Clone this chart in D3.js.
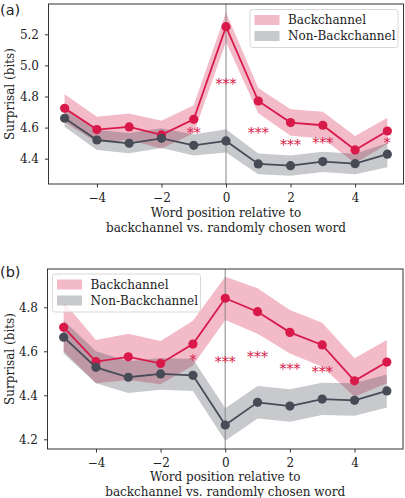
<!DOCTYPE html>
<html>
<head>
<meta charset="utf-8">
<script src="https://cdn.jsdelivr.net/npm/d3@7"></script>
<style>
  html, body { margin: 0; padding: 0; background: #fff; }
  svg { display: block; }
  text { font-family: "DejaVu Serif", serif; fill: #222; }
</style>
</head>
<body>
<svg id="chart" width="405" height="498"></svg>
<script>
// ---------- data ----------
const positions = [-5, -4, -3, -2, -1, 0, 1, 2, 3, 4, 5];
const seriesNames = ["Backchannel", "Non-Backchannel"];
const xTicks = [-4, -2, 0, 2, 4];

// Panel (a)
const aBackMean  = [4.724, 4.587, 4.604, 4.553, 4.653, 5.249, 4.771, 4.632, 4.615, 4.456, 4.578];
const aBackUpper = [4.815, 4.670, 4.690, 4.644, 4.744, 5.340, 4.855, 4.718, 4.702, 4.546, 4.664];
const aBackLower = [4.635, 4.505, 4.520, 4.465, 4.563, 5.150, 4.692, 4.548, 4.530, 4.370, 4.495];
const aNonMean   = [4.660, 4.520, 4.499, 4.531, 4.486, 4.514, 4.366, 4.355, 4.381, 4.368, 4.429];
const aNonUpper  = [4.720, 4.585, 4.565, 4.595, 4.555, 4.589, 4.434, 4.420, 4.445, 4.432, 4.500];
const aNonLower  = [4.605, 4.456, 4.435, 4.468, 4.420, 4.439, 4.300, 4.290, 4.315, 4.300, 4.345];
const aYTicks = [4.4, 4.6, 4.8, 5.0, 5.2];
const aStarPos = [-1, 0, 1, 2, 3, 5];
const aStarText = ["**", "***", "***", "***", "***", "*"];
const aStarY = [4.587, 4.900, 4.587, 4.507, 4.518, 4.522];

// Panel (b)
const bBackMean  = [4.709, 4.553, 4.575, 4.545, 4.633, 4.841, 4.780, 4.686, 4.629, 4.466, 4.551];
const bBackUpper = [4.825, 4.651, 4.680, 4.647, 4.739, 4.939, 4.886, 4.788, 4.730, 4.568, 4.651];
const bBackLower = [4.600, 4.455, 4.470, 4.450, 4.535, 4.742, 4.680, 4.590, 4.530, 4.394, 4.455];
const bNonMean   = [4.664, 4.527, 4.482, 4.497, 4.491, 4.265, 4.368, 4.351, 4.383, 4.377, 4.420];
const bNonUpper  = [4.740, 4.600, 4.555, 4.570, 4.565, 4.341, 4.442, 4.427, 4.457, 4.455, 4.495];
const bNonLower  = [4.590, 4.455, 4.410, 4.425, 4.420, 4.194, 4.295, 4.280, 4.310, 4.307, 4.345];
const bYTicks = [4.2, 4.4, 4.6, 4.8];
const bStarPos = [-1, 0, 1, 2, 3];
const bStarText = ["*", "***", "***", "***", "***"];
const bStarY = [4.575, 4.566, 4.588, 4.532, 4.520];

const xLabelLines = ["Word position relative to", "backchannel vs. randomly chosen word"];
const yLabel = "Surprisal (bits)";

// ---------- styles ----------
const RED = "#d8194a";
const GREY = "#464b56";
const FS = 12;

const svg = d3.select("#chart");

function panel(cfg) {
  const g = svg.append("g");
  const x = d3.scaleLinear().domain([-5.5, 5.5]).range([cfg.left, cfg.right]);
  const y = d3.scaleLinear().domain(cfg.yDomain).range([cfg.bottom, cfg.top]);

  const area = (lo, hi) => d3.area()
    .x((d, i) => x(positions[i]))
    .y0((d, i) => y(lo[i]))
    .y1((d, i) => y(hi[i]))(positions);
  const line = vals => d3.line()
    .x((d, i) => x(positions[i]))
    .y((d, i) => y(vals[i]))(positions);

  const cid = "clip" + cfg.name;
  svg.append("clipPath").attr("id", cid).append("rect")
    .attr("x", cfg.left).attr("y", cfg.top)
    .attr("width", cfg.right - cfg.left).attr("height", cfg.bottom - cfg.top);
  const pg = g.append("g").attr("clip-path", `url(#${cid})`);

  // bands
  pg.append("path").attr("d", area(cfg.backLower, cfg.backUpper))
    .attr("fill", RED).attr("fill-opacity", 0.3);
  pg.append("path").attr("d", area(cfg.nonLower, cfg.nonUpper))
    .attr("fill", GREY).attr("fill-opacity", 0.3);

  // vertical line at 0
  pg.append("line").attr("x1", x(0)).attr("x2", x(0))
    .attr("y1", cfg.top).attr("y2", cfg.bottom)
    .attr("stroke", "#8a8a8a").attr("stroke-width", 1.3).attr("stroke-opacity", 0.8);

  // lines + markers
  [[cfg.backMean, RED], [cfg.nonMean, GREY]].forEach(([vals, col]) => {
    pg.append("path").attr("d", line(vals)).attr("fill", "none")
      .attr("stroke", col).attr("stroke-width", 1.8);
    pg.selectAll(null).data(vals).enter().append("circle")
      .attr("cx", (d, i) => x(positions[i])).attr("cy", d => y(d))
      .attr("r", 4.6).attr("fill", col);
  });

  // stars
  g.selectAll(null).data(cfg.starPos).enter().append("text")
    .attr("x", d => x(d))
    .attr("y", (d, i) => y(cfg.starY[i]) + 8)
    .attr("text-anchor", "middle")
    .style("font-size", "14px")
    .style("fill", RED)
    .text((d, i) => cfg.starText[i]);

  // frame
  g.append("rect").attr("x", cfg.left).attr("y", cfg.top)
    .attr("width", cfg.right - cfg.left).attr("height", cfg.bottom - cfg.top)
    .attr("fill", "none").attr("stroke", "#333").attr("stroke-width", 1);

  // axes
  const xa = g.append("g").attr("transform", `translate(0,${cfg.bottom})`)
    .call(d3.axisBottom(x).tickValues(xTicks).tickSize(3.5).tickPadding(5.5)
      .tickFormat(d => d < 0 ? "\u2212" + Math.abs(d) : d));
  const ya = g.append("g").attr("transform", `translate(${cfg.left},0)`)
    .call(d3.axisLeft(y).tickValues(cfg.yTicks).tickSize(3.5).tickPadding(6)
      .tickFormat(d3.format(".1f")));
  [xa, ya].forEach(a => {
    a.select(".domain").remove();
    a.selectAll(".tick line").attr("stroke", "#333");
    a.selectAll(".tick text").style("font-size", FS + "px").style("font-family", "DejaVu Serif").attr("fill", "#222");
  });

  // axis labels
  const cx = (cfg.left + cfg.right) / 2;
  xLabelLines.forEach((t, i) => {
    g.append("text").attr("x", cx).attr("y", cfg.xLabelY + i * 14.5)
      .attr("text-anchor", "middle").style("font-size", FS + "px").text(t);
  });
  g.append("text")
    .attr("transform", `translate(${cfg.yLabelX},${(cfg.top + cfg.bottom) / 2}) rotate(-90)`)
    .attr("text-anchor", "middle").style("font-size", FS + "px").text(yLabel);

  // panel label
  g.append("text").attr("x", 0).attr("y", cfg.tagY)
    .style("font-family", "DejaVu Sans").style("font-size", "14.5px").text(cfg.tag);

  // legend
  const L = cfg.legend;
  const lg = g.append("g");
  lg.append("rect").attr("x", L.x).attr("y", L.y).attr("width", L.w).attr("height", L.h)
    .attr("rx", 2.5).attr("fill", "#fff").attr("fill-opacity", 0.8)
    .attr("stroke", "#d4d4d4").attr("stroke-width", 0.9);
  seriesNames.forEach((n, i) => {
    const cy = L.y + 10.5 + i * 16;
    lg.append("rect").attr("x", L.x + 4.5).attr("y", cy - 5).attr("width", 25).attr("height", 10)
      .attr("fill", i === 0 ? RED : GREY).attr("fill-opacity", 0.3);
    lg.append("text").attr("x", L.x + 38).attr("y", cy + 4.2)
      .style("font-size", FS + "px").text(n);
  });
}

panel({
  name: "a", tag: "(a)", tagY: 14.5,
  left: 48.5, right: 403.5, top: 4, bottom: 184,
  yDomain: [4.237, 5.395], yTicks: aYTicks,
  backMean: aBackMean, backUpper: aBackUpper, backLower: aBackLower,
  nonMean: aNonMean, nonUpper: aNonUpper, nonLower: aNonLower,
  starPos: aStarPos, starText: aStarText, starY: aStarY,
  xLabelY: 217, yLabelX: 13.5,
  legend: { x: 250, y: 9.5, w: 148, h: 38 }
});

panel({
  name: "b", tag: "(b)", tagY: 277,
  left: 47.5, right: 403, top: 269, bottom: 449,
  yDomain: [4.156, 4.974], yTicks: bYTicks,
  backMean: bBackMean, backUpper: bBackUpper, backLower: bBackLower,
  nonMean: bNonMean, nonUpper: bNonUpper, nonLower: bNonLower,
  starPos: bStarPos, starText: bStarText, starY: bStarY,
  xLabelY: 481, yLabelX: 13.5,
  legend: { x: 52.5, y: 274, w: 148, h: 38 }
});
</script>
</body>
</html>
